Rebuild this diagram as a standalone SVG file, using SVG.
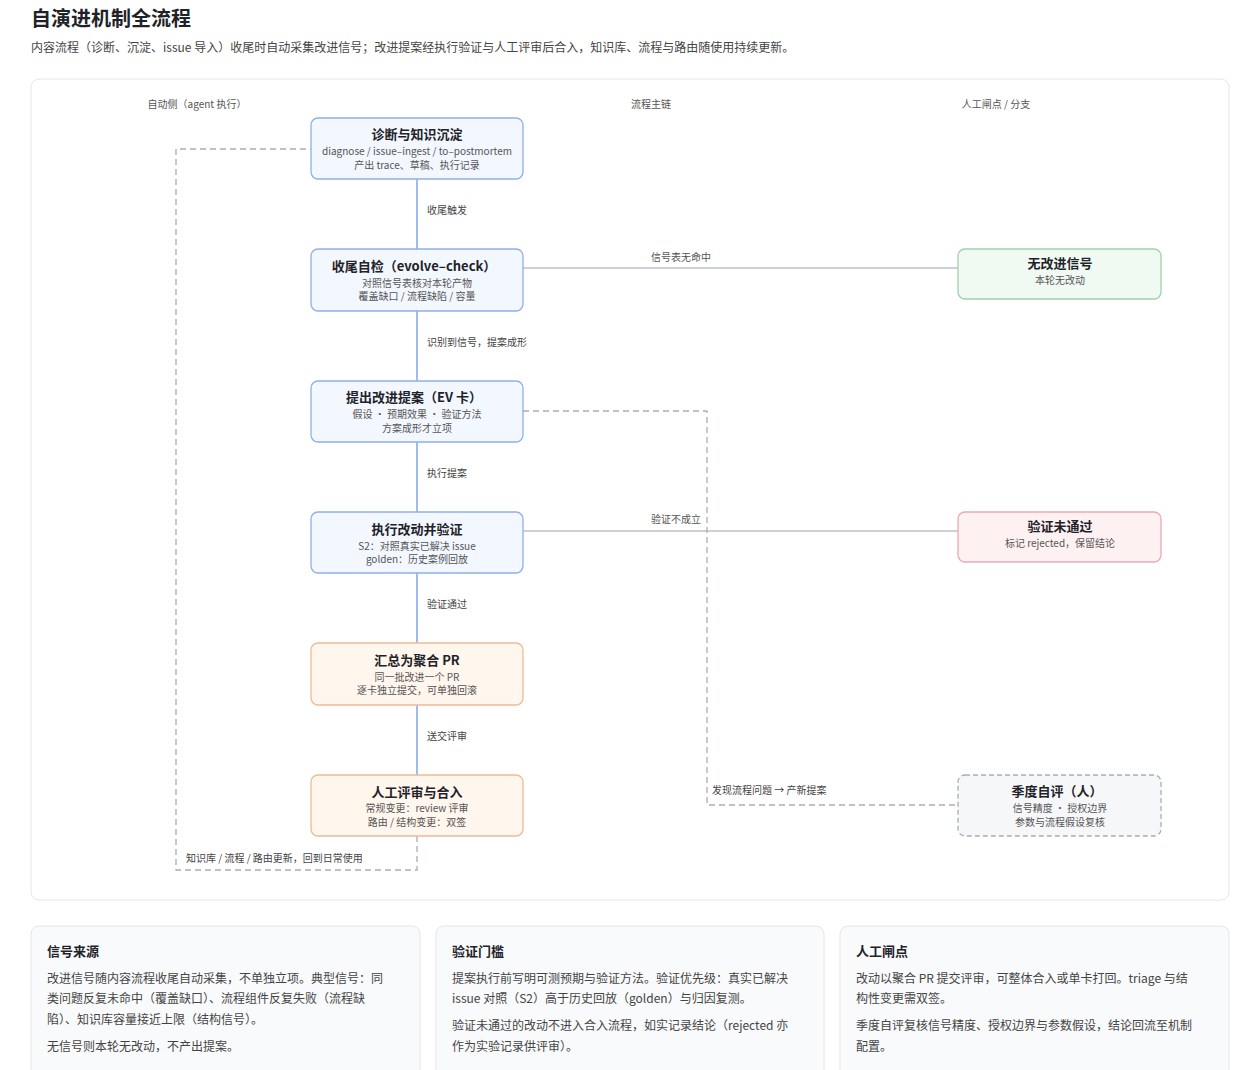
<svg xmlns="http://www.w3.org/2000/svg" width="1260" height="1070" viewBox="0 0 1260 1070">
<style>
text{font-family:"Noto Sans CJK SC","Liberation Sans",sans-serif}
.t{font-size:13px;font-weight:700;fill:#1f2329;text-anchor:middle}
.s{font-size:10px;fill:#555;text-anchor:middle}
.l{font-size:10px;fill:#444}
.h{font-size:10px;fill:#555;text-anchor:middle}
.blue{fill:#f3f7ff;stroke:#8fb0ea;stroke-width:1.3}
.org{fill:#fff6ee;stroke:#eebb94;stroke-width:1.3}
.grn{fill:#f1f9f3;stroke:#9fd2ac;stroke-width:1.3}
.red{fill:#fdf1f2;stroke:#eba9b1;stroke-width:1.3}
.gry{fill:#f6f7f9;stroke:#a6adba;stroke-width:1.3;stroke-dasharray:5 3}
.v{stroke:#7fa4ea;stroke-width:1.5;fill:none}
.g{stroke:#9aa2b0;stroke-width:1.2;fill:none}
.d{stroke:#a6adba;stroke-width:1.3;fill:none;stroke-dasharray:6 4}
.card{fill:#f9fafb;stroke:#e3e6ea}
.ct{font-size:13px;font-weight:700;fill:#1f2329}
.cb{font-size:12px;fill:#444}
</style>
<rect width="1260" height="1070" fill="#fff"/>
<text x="31" y="26" style="font-size:20px;font-weight:700;fill:#1f2329">自演进机制全流程</text>
<text x="31" y="52" style="font-size:12px;fill:#444">内容流程（诊断、沉淀、issue 导入）收尾时自动采集改进信号；改进提案经执行验证与人工评审后合入，知识库、流程与路由随使用持续更新。</text>
<rect x="31" y="79" width="1198" height="821" rx="8" fill="#fff" stroke="#e3e6ea"/>
<text x="197" y="108" class="h">自动侧（agent 执行）</text>
<text x="651" y="108" class="h">流程主链</text>
<text x="996" y="108" class="h">人工闸点 / 分支</text>
<g id="connectors">
<line x1="417" y1="179" x2="417" y2="249" class="v"/>
<line x1="417" y1="311" x2="417" y2="381" class="v"/>
<line x1="417" y1="442" x2="417" y2="512" class="v"/>
<line x1="417" y1="573" x2="417" y2="643" class="v"/>
<line x1="417" y1="705" x2="417" y2="775" class="v"/>
<text x="427" y="214" class="l">收尾触发</text>
<text x="427" y="346" class="l">识别到信号，提案成形</text>
<text x="427" y="477" class="l">执行提案</text>
<text x="427" y="608" class="l">验证通过</text>
<text x="427" y="740" class="l">送交评审</text>
<line x1="523" y1="268" x2="958" y2="268" class="g"/>
<text x="681" y="261" class="h">信号表无命中</text>
<line x1="523" y1="531" x2="958" y2="531" class="g"/>
<text x="676" y="523" class="h">验证不成立</text>
<path d="M523 411H707V805H958" class="d"/>
<text x="712" y="794" class="l">发现流程问题 → 产新提案</text>
<path d="M417 836V870H176V149H311" class="d"/>
<text x="186" y="862" class="l">知识库 / 流程 / 路由更新，回到日常使用</text>
</g>
<g id="n1"><rect x="311" y="118" width="212" height="61" rx="7" class="blue"/><text x="417" y="139" class="t">诊断与知识沉淀</text><text x="417" y="155" class="s">diagnose / issue–ingest / to–postmortem</text><text x="417" y="169" class="s">产出 trace、草稿、执行记录</text></g>
<g id="n2"><rect x="311" y="249" width="212" height="62" rx="7" class="blue"/><text x="414" y="271" class="t">收尾自检（evolve–check）</text><text x="417" y="287" class="s">对照信号表核对本轮产物</text><text x="417" y="300" class="s">覆盖缺口 / 流程缺陷 / 容量</text></g>
<g id="n3"><rect x="311" y="381" width="212" height="61" rx="7" class="blue"/><text x="414" y="402" class="t">提出改进提案（EV 卡）</text><text x="417" y="418" class="s">假设 · 预期效果 · 验证方法</text><text x="417" y="432" class="s">方案成形才立项</text></g>
<g id="n4"><rect x="311" y="512" width="212" height="61" rx="7" class="blue"/><text x="417" y="534" class="t">执行改动并验证</text><text x="417" y="550" class="s">S2：对照真实已解决 issue</text><text x="417" y="563" class="s">golden：历史案例回放</text></g>
<g id="n5"><rect x="311" y="643" width="212" height="62" rx="7" class="org"/><text x="417" y="665" class="t">汇总为聚合 PR</text><text x="417" y="681" class="s">同一批改进一个 PR</text><text x="417" y="694" class="s">逐卡独立提交，可单独回滚</text></g>
<g id="n6"><rect x="311" y="775" width="212" height="61" rx="7" class="org"/><text x="417" y="797" class="t">人工评审与合入</text><text x="417" y="812" class="s">常规变更：review 评审</text><text x="417" y="826" class="s">路由 / 结构变更：双签</text></g>
<g id="n7"><rect x="958" y="249" width="203" height="50" rx="7" class="grn"/><text x="1060" y="268" class="t">无改进信号</text><text x="1060" y="284" class="s">本轮无改动</text></g>
<g id="n8"><rect x="958" y="512" width="203" height="50" rx="7" class="red"/><text x="1060" y="531" class="t">验证未通过</text><text x="1060" y="547" class="s">标记 rejected，保留结论</text></g>
<g id="n9"><rect x="958" y="775" width="203" height="61" rx="7" class="gry"/><text x="1057" y="796" class="t">季度自评（人）</text><text x="1060" y="812" class="s">信号精度 · 授权边界</text><text x="1060" y="826" class="s">参数与流程假设复核</text></g>
<g id="c1"><rect x="31" y="926" width="389" height="160" rx="8" class="card"/><text x="47" y="956" class="ct">信号来源</text>
<text x="47" y="983" class="cb">改进信号随内容流程收尾自动采集，不单独立项。典型信号：同</text>
<text x="47" y="1003" class="cb">类问题反复未命中（覆盖缺口）、流程组件反复失败（流程缺</text>
<text x="47" y="1024" class="cb">陷）、知识库容量接近上限（结构信号）。</text>
<text x="47" y="1051" class="cb">无信号则本轮无改动，不产出提案。</text></g>
<g id="c2"><rect x="436" y="926" width="388" height="160" rx="8" class="card"/><text x="452" y="956" class="ct">验证门槛</text>
<text x="452" y="983" class="cb">提案执行前写明可测预期与验证方法。验证优先级：真实已解决</text>
<text x="452" y="1003" class="cb">issue 对照（S2）高于历史回放（golden）与归因复测。</text>
<text x="452" y="1030" class="cb">验证未通过的改动不进入合入流程，如实记录结论（rejected 亦</text>
<text x="452" y="1051" class="cb">作为实验记录供评审）。</text></g>
<g id="c3"><rect x="840" y="926" width="389" height="160" rx="8" class="card"/><text x="856" y="956" class="ct">人工闸点</text>
<text x="856" y="983" class="cb">改动以聚合 PR 提交评审，可整体合入或单卡打回。triage 与结</text>
<text x="856" y="1003" class="cb">构性变更需双签。</text>
<text x="856" y="1030" class="cb">季度自评复核信号精度、授权边界与参数假设，结论回流至机制</text>
<text x="856" y="1051" class="cb">配置。</text></g>
</svg>
